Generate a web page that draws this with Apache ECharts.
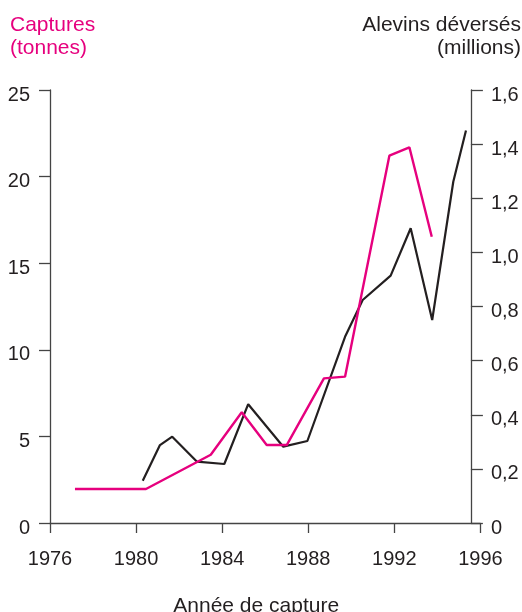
<!DOCTYPE html>
<html>
<head>
<meta charset="utf-8">
<script src="https://cdn.jsdelivr.net/npm/echarts@6/dist/echarts.min.js"></script>
<style>html,body{margin:0;padding:0;background:#fff;}#c{width:522px;height:612px;}</style>
</head>
<body>
<div id="c"></div>
<script>
// Captures (tonnes) - magenta, left axis
const capYears  = [1977.16, 1980.46, 1983.47, 1984.91, 1986.07, 1987.0, 1988.73, 1989.71, 1991.77, 1992.70, 1993.74];
const capValues = [1.96, 1.96, 3.94, 6.39, 4.50, 4.50, 8.35, 8.45, 21.21, 21.69, 16.53];
// Alevins déversés (millions) - black, right axis
const alvYears  = [1980.31, 1981.11, 1981.68, 1982.82, 1984.10, 1985.21, 1986.84, 1987.96, 1989.71, 1990.53, 1991.83, 1992.76, 1993.76, 1994.74, 1995.33];
const alvValues = [0.156, 0.288, 0.319, 0.227, 0.218, 0.439, 0.282, 0.303, 0.688, 0.824, 0.914, 1.089, 0.750, 1.261, 1.450];

const leftTitle = 'Captures\n(tonnes)';
const rightTitle = 'Alevins déversés\n(millions)';
const xName = 'Année de capture';

const FONT = '"Liberation Sans", Arial, Helvetica, sans-serif';
const INK = '#231f20';
const AXIS = '#444444';
const MAG = '#e6007e';

const chart = echarts.init(document.getElementById('c'), null, {renderer: 'canvas'});
chart.setOption({
  animation: false,
  backgroundColor: '#ffffff',
  textStyle: {fontFamily: FONT},
  title: [
    {text: leftTitle, left: 5, top: 8, textStyle: {color: MAG, fontSize: 21, fontWeight: 'normal', fontFamily: FONT, lineHeight: 23.5}},
    {text: rightTitle, left: 516, top: 8, textAlign: 'right', textStyle: {color: INK, fontSize: 21, fontWeight: 'normal', fontFamily: FONT, lineHeight: 23.5}}
  ],
  grid: {left: 50, top: 90, width: 430.4, height: 433, containLabel: false, outerBoundsMode: 'none'},
  xAxis: {
    type: 'value', min: 1976, max: 1996, interval: 4,
    name: xName, nameLocation: 'middle', nameGap: 73,
    nameTextStyle: {color: INK, fontSize: 21, fontFamily: FONT, padding: [0, 18, 0, 0]},
    axisLine: {show: true, onZero: false, lineStyle: {color: AXIS, width: 1.3}},
    axisTick: {show: true, length: 10, lineStyle: {color: AXIS, width: 1.3}},
    axisLabel: {color: INK, fontSize: 20, fontFamily: FONT, margin: 26, formatter: v => String(v)},
    splitLine: {show: false}
  },
  yAxis: [
    {
      type: 'value', min: 0, max: 25, interval: 5, position: 'left',
      axisLine: {show: true, lineStyle: {color: AXIS, width: 1.3}},
      axisTick: {show: true, length: 11, lineStyle: {color: AXIS, width: 1.3}},
      axisLabel: {color: INK, fontSize: 20, fontFamily: FONT, margin: 20, verticalAlign: 'top', lineHeight: 10},
      splitLine: {show: false}
    },
    {
      type: 'value', min: 0, max: 1.6, interval: 0.2, position: 'right', offset: -9.5,
      axisLine: {show: true, lineStyle: {color: AXIS, width: 1.3}},
      axisTick: {show: true, length: 12, lineStyle: {color: AXIS, width: 1.3}},
      axisLabel: {color: INK, fontSize: 20, fontFamily: FONT, margin: 20, verticalAlign: 'top', lineHeight: 10,
        formatter: v => v === 0 ? '0' : v.toFixed(1).replace('.', ',')},
      splitLine: {show: false}
    }
  ],
  series: [
    {
      name: 'Alevins', type: 'line', yAxisIndex: 1, showSymbol: false, symbol: 'none',
      data: alvYears.map((y, i) => [y, alvValues[i]]),
      lineStyle: {color: INK, width: 2.2}, z: 2
    },
    {
      name: 'Captures', type: 'line', yAxisIndex: 0, showSymbol: false, symbol: 'none',
      data: capYears.map((y, i) => [y, capValues[i]]),
      lineStyle: {color: MAG, width: 2.4}, z: 3
    }
  ]
});
</script>
</body>
</html>
